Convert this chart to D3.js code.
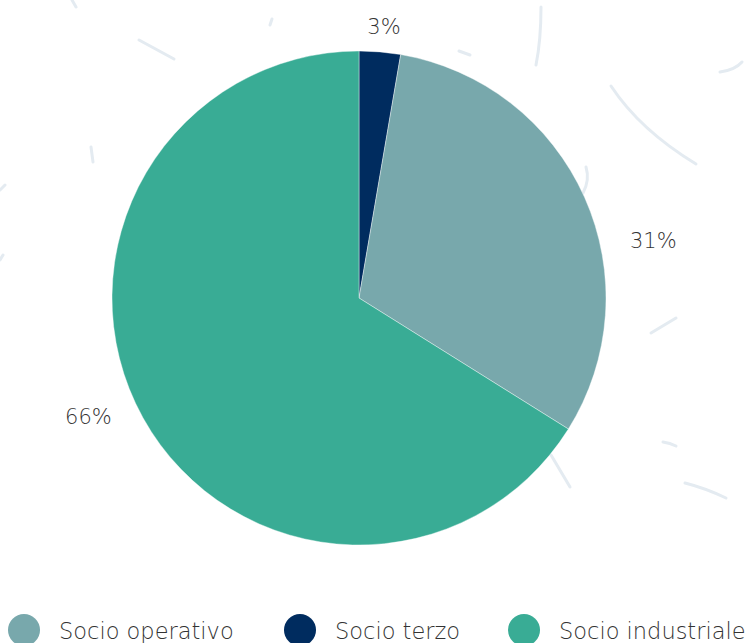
<!DOCTYPE html>
<html>
<head>
<meta charset="utf-8">
<script src="https://cdn.jsdelivr.net/npm/d3@7"></script>
<style>
  body { margin: 0; background: #fff; }
  svg { display: block; }
  text { font-family: "DejaVu Sans", sans-serif; font-weight: 200; fill: #333; }
</style>
</head>
<body>
<script>
var categories = ["Socio terzo", "Socio operativo", "Socio industriale"];
var values = [2.7, 31.2, 66.1];
var colors = ["#002c5f", "#78a8ac", "#39ac95"];
var legendOrder = ["Socio operativo", "Socio terzo", "Socio industriale"];

var width = 746, height = 643;
var cx = 359, cy = 298, radius = 247;
// label angle tweaks (degrees) so the texts sit where the report put them
var labelShift = [0, 12, 3];

var svg = d3.select("body").append("svg")
    .attr("width", width)
    .attr("height", height);

// faint decorative strokes in the background
var decor = [
    "M139,40 L174,59", "M72,0 L76,7", "M272,19 L270,25", "M91,147 L93,162",
    "M541,7 Q541,40 536,65", "M459,51 L470,55", "M611,86 Q640,130 696,164",
    "M720,72 Q735,70 742,62", "M586,167 Q590,180 583,193", "M651,333 L676,318",
    "M663,442 Q670,443 676,446", "M685,483 Q705,488 726,498", "M551,455 L570,487",
    "M0,190 L5,185", "M0,260 L3,255"
];
svg.append("g").selectAll("path").data(decor).join("path")
    .attr("d", function(d) { return d; })
    .attr("fill", "none")
    .attr("stroke", "#e4ebf1")
    .attr("stroke-width", 3)
    .attr("stroke-linecap", "round");

var data = categories.map(function(c, i) { return {name: c, value: values[i], color: colors[i], idx: i}; });

var pie = d3.pie().sort(null).value(function(d) { return d.value; });
var arc = d3.arc().innerRadius(0).outerRadius(radius);
var arcs = pie(data);
var total = d3.sum(values);

var g = svg.append("g").attr("transform", "translate(" + cx + "," + cy + ")");

g.selectAll("path.slice").data(arcs).join("path")
    .attr("class", "slice")
    .attr("d", arc)
    .attr("fill", function(d) { return d.data.color; })
    .attr("stroke", "#fff")
    .attr("stroke-width", 0.4);

var fmt = d3.format(".0%");
var labelR = radius * 1.1;
g.selectAll("text.lbl").data(arcs).join("text")
    .attr("class", "lbl")
    .attr("font-size", 21)
    .attr("text-anchor", "middle")
    .attr("dominant-baseline", "central")
    .text(function(d) { return fmt(d.data.value / total); })
    .each(function(d) {
        var a = (d.startAngle + d.endAngle) / 2 + labelShift[d.data.idx] * Math.PI / 180;
        var w = this.getComputedTextLength();
        d3.select(this)
            .attr("x", Math.sin(a) * (labelR + w / 2 + 6))
            .attr("y", -Math.cos(a) * labelR);
    });

// legend
var legendPos = {"Socio operativo": 24, "Socio terzo": 300, "Socio industriale": 524};
var lg = svg.append("g").selectAll("g").data(legendOrder).join("g")
    .attr("transform", function(d) { return "translate(" + legendPos[d] + ",630)"; });
lg.append("circle")
    .attr("r", 16)
    .attr("fill", function(d) { return colors[categories.indexOf(d)]; });
lg.append("text")
    .attr("x", 35)
    .attr("y", 9)
    .attr("font-size", 22.5)
    .text(function(d) { return d; });
</script>
</body>
</html>
